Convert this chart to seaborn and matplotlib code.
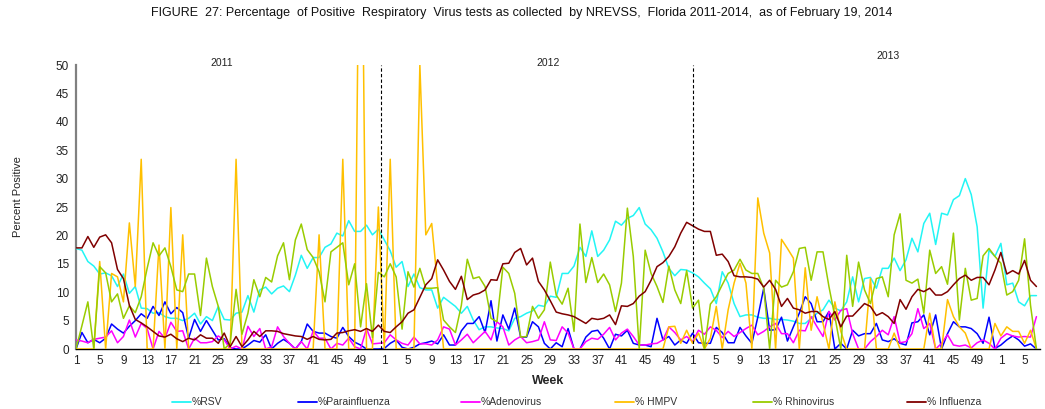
import numpy as np
import pandas as pd
import matplotlib
matplotlib.use("Agg")
import matplotlib.pyplot as plt
import seaborn as sns
from matplotlib.lines import Line2D
from matplotlib.ticker import FixedLocator, FixedFormatter

# ---------------- data ----------------
weeks_2011 = list(range(1, 53))
weeks_2012 = list(range(1, 53))
weeks_2013 = list(range(1, 53))
weeks_2014 = list(range(1, 8))
week_labels = weeks_2011 + weeks_2012 + weeks_2013 + weeks_2014

series_names = ["%RSV", "%Parainfluenza", "%Adenovirus", "% HMPV", "% Rhinovirus", "% Influenza"]
series_colors = ["#22F5F5", "#0000FF", "#FF00FF", "#FFC000", "#99CC00", "#800000"]
year_labels = ["2011", "2012", "2013"]

rsv_2011 = [17.7, 17.4, 15.4, 14.6, 13.2, 13.4, 12.9, 11.0, 13.2, 9.8, 11.0, 7.2, 7.1, 6.3, 6.4, 5.7,
            5.4, 5.4, 5.0, 5.4, 6.3, 4.4, 5.7, 5.0, 7.5, 5.2, 5.1, 6.3, 6.5, 9.4, 6.5, 10.4, 10.9, 9.7,
            10.7, 11.1, 10.1, 13.0, 16.5, 14.2, 16.1, 16.1, 17.9, 18.5, 20.4, 19.9, 22.6, 20.7, 20.7,
            21.8, 20.1, 21.1]
rsv_2012 = [19.2, 17.3, 14.4, 15.4, 11.0, 13.2, 10.8, 10.4, 10.4, 7.2, 9.1, 8.3, 7.5, 6.3, 7.5, 5.1,
            3.4, 3.9, 3.9, 3.7, 3.6, 3.2, 5.4, 5.7, 6.3, 6.7, 7.7, 7.5, 9.3, 9.1, 13.3, 13.3, 14.6, 17.9,
            16.3, 20.8, 16.3, 17.4, 19.2, 22.5, 21.8, 23.0, 23.5, 24.9, 22.0, 21.0, 19.5, 17.1, 14.2,
            12.9, 14.0, 13.9]
rsv_2013 = [13.4, 12.7, 11.6, 10.6, 8.0, 13.6, 11.6, 8.0, 5.7, 6.0, 6.0, 5.6, 5.4, 5.4, 5.2, 5.2,
            5.1, 4.9, 4.5, 4.5, 5.4, 6.3, 6.9, 8.6, 7.2, 6.7, 8.3, 12.7, 8.3, 12.4, 12.6, 10.7, 14.2,
            14.2, 16.0, 13.8, 15.7, 19.5, 17.1, 22.1, 23.9, 18.4, 23.9, 23.6, 26.3, 27.0, 30.0, 27.2,
            21.5, 7.2, 17.4, 16.3, 18.6, 11.3, 11.6, 8.3, 7.6, 9.4, 9.4]

para_2011 = [0, 2.9, 1.1, 1.7, 1.1, 1.9, 4.4, 3.5, 2.8, 4.0, 5.0, 6.2, 5.4, 7.5, 5.9, 8.3, 6.2, 7.3,
             6.4, 1.9, 5.2, 3.1, 5.0, 3.3, 1.6, 1.8, 0.2, 0, 0, 0.7, 1.5, 1.2, 2.5, 0, 1.0, 1.7, 1.0, 0,
             1.3, 4.4, 3.1, 2.8, 2.8, 2.2, 1.9, 3.8, 2.2, 1.2, 0.7, 0, 0, 0]
para_2012 = [0.1, 1.0, 1.6, 0.3, 0, 0.3, 0.9, 1.1, 1.4, 0.9, 2.5, 0.7, 0.7, 3.2, 4.5, 4.5, 5.7, 2.9,
             8.5, 1.4, 6.0, 3.5, 7.2, 2.1, 2.1, 4.8, 3.9, 1.0, 0, 1.1, 0.4, 3.6, 0, 0, 2.1, 3.1, 3.3,
             1.9, 0, 2.6, 2.3, 3.3, 1.0, 0.7, 0.7, 0.4, 5.4, 1.6, 2.2, 0.7, 1.6, 1.0]
para_2013 = [2.8, 1.1, 1.0, 1.0, 3.8, 2.9, 1.1, 1.1, 3.8, 2.3, 1.0, 5.6, 10.7, 3.3, 3.4, 5.6, 1.4,
             3.9, 6.3, 9.2, 8.0, 4.8, 4.8, 6.6, 0, 1.0, 0, 3.3, 2.3, 2.7, 2.7, 4.5, 1.6, 1.3, 1.8, 1.0,
             0.7, 4.6, 4.8, 6.0, 2.5, 6.0, 0, 2.7, 4.8, 3.9, 3.9, 3.6, 2.7, 1.0, 5.6, 0.1, 0.7, 1.6,
             2.3, 1.6, 0.5, 0.9, 0]

adeno_2011 = [1.6, 1.4, 1.1, 1.7, 1.9, 2.1, 3.2, 1.1, 2.2, 5.1, 2.1, 4.5, 3.6, 0, 3.1, 1.9, 4.7, 3.1,
              3.2, 0, 1.9, 1.1, 1.1, 1.3, 2.3, 1.6, 0, 0.5, 0, 4.0, 2.2, 3.6, 0, 0.4, 3.9, 2.2, 1.0, 0,
              1.3, 0, 3.2, 1.9, 1.9, 0, 1.0, 0.7, 1.9, 0.4, 0, 3.6, 0.9, 1.0]
adeno_2012 = [1.1, 2.5, 1.6, 1.0, 0.7, 2.1, 0.9, 0.9, 0.7, 1.6, 3.9, 3.5, 0.7, 1.6, 2.6, 1.1, 2.1,
              3.1, 1.6, 4.8, 3.9, 0.7, 1.6, 2.2, 1.1, 1.3, 1.6, 4.8, 1.6, 1.5, 3.9, 2.8, 0, 0, 1.3,
              1.9, 1.7, 2.6, 3.8, 1.6, 2.8, 3.5, 2.2, 0.7, 0.7, 0.9, 1.0, 1.6, 3.9, 2.9, 1.6, 2.2]
adeno_2013 = [1.3, 3.3, 2.6, 3.9, 3.3, 2.0, 3.1, 2.2, 2.9, 3.6, 4.2, 2.5, 3.1, 3.9, 4.5, 2.7, 2.7,
              1.1, 3.3, 3.2, 5.7, 3.9, 2.2, 6.6, 5.1, 6.8, 7.1, 2.7, 0, 0, 1.3, 2.2, 3.3, 2.5, 5.7, 1.1,
              1.3, 2.7, 7.1, 3.6, 4.5, 0, 1.0, 2.5, 0.7, 0.5, 0.7, 0.2, 1.1, 1.6, 1.0, 0, 1.9, 2.7,
              2.3, 2.1, 2.2, 2.1, 5.7]

hmpv_2011 = [0, 0, 0, 0, 15.4, 0, 13.3, 12.7, 8.3, 22.2, 11.0, 33.4, 0, 0, 18.3, 0, 24.9, 0, 20.1,
             0, 0, 0, 0, 0, 0, 0, 0, 33.4, 0, 0, 0, 0, 0, 0, 0, 0, 0, 0, 0, 0, 0, 20.1, 0, 0, 0, 33.4,
             0, 0, 100.0, 0, 0, 25.0]
hmpv_2012 = [0, 33.4, 0, 0, 0, 0, 50.0, 20.1, 22.1, 11.0, 0, 0, 0, 0, 0, 0, 0, 0, 0, 0, 0, 0, 0, 0,
             0, 0, 0, 0, 0, 0, 0, 0, 0, 0, 0, 0, 0, 0, 0, 0, 0, 0, 0, 0, 0, 0, 0, 0, 3.9, 4.0, 1.0, 3.3]
hmpv_2013 = [1.0, 2.8, 0, 1.9, 7.5, 0, 6.9, 11.6, 15.1, 11.6, 0, 26.6, 20.4, 16.9, 0, 19.3, 17.7,
             16.0, 0, 14.3, 3.3, 9.2, 4.5, 0, 8.3, 3.1, 0, 0, 0, 0, 12.4, 0, 0, 0, 2.8, 0, 0, 0, 0, 0,
             6.3, 0, 0, 8.7, 5.7, 3.9, 2.8, 0, 0, 0, 0, 4.5, 2.3, 3.9, 3.1, 3.1, 1.0, 3.3, 0]

rhino_2011 = [0, 4.1, 8.3, 0, 14.5, 13.4, 8.3, 9.7, 5.4, 7.6, 6.4, 9.2, 14.2, 18.7, 16.4, 17.8, 14.5,
              10.4, 10.1, 13.2, 13.2, 5.9, 16.0, 11.0, 7.5, 0, 1.0, 10.5, 2.6, 6.3, 12.2, 9.2, 12.6,
              11.8, 16.4, 18.7, 12.2, 19.2, 22.0, 17.5, 16.1, 13.6, 8.3, 17.1, 17.9, 18.7, 11.3, 15.0,
              3.9, 11.5, 2.0, 13.5]
rhino_2012 = [12.7, 15.0, 12.7, 3.5, 13.6, 10.9, 14.2, 10.7, 10.7, 10.8, 5.1, 3.9, 2.9, 7.7, 15.8,
              12.4, 12.7, 11.0, 5.4, 4.8, 14.4, 13.3, 9.8, 2.1, 2.2, 7.5, 5.4, 6.9, 15.3, 9.5, 7.9,
              10.7, 3.1, 22.0, 11.7, 16.1, 11.7, 13.2, 11.3, 6.6, 11.6, 24.8, 16.3, 0, 17.4, 13.3,
              11.0, 8.2, 14.6, 10.4, 8.0, 13.8]
rhino_2013 = [7.2, 8.6, 0, 7.9, 9.2, 11.3, 13.3, 13.9, 15.8, 13.9, 13.3, 13.3, 10.7, 0, 12.1, 10.9,
              11.3, 13.6, 17.7, 17.9, 12.1, 17.1, 17.1, 11.0, 5.7, 0, 16.5, 7.5, 15.3, 10.4, 8.0, 12.4,
              12.7, 9.2, 20.1, 23.8, 12.1, 11.6, 12.3, 6.3, 17.4, 13.3, 14.5, 11.4, 20.4, 5.1, 14.2,
              8.6, 8.9, 16.4, 17.7, 16.3, 15.1, 9.5, 10.1, 12.1, 19.4, 7.7, 0]

flu_2011 = [17.8, 17.8, 19.8, 17.9, 19.7, 20.1, 18.7, 14.0, 12.4, 7.7, 5.2, 4.6, 3.9, 3.1, 2.3, 2.1,
            2.6, 1.8, 1.3, 1.9, 1.6, 2.5, 1.9, 1.9, 1.0, 2.8, 0.4, 2.2, 0.4, 1.6, 3.1, 2.2, 3.2, 3.2,
            3.1, 2.7, 2.5, 2.3, 2.2, 1.7, 2.2, 1.7, 1.6, 1.7, 2.8, 2.9, 3.2, 3.4, 3.1, 3.6, 3.1, 4.2]
flu_2012 = [3.1, 2.9, 3.9, 4.8, 6.3, 6.9, 9.1, 11.3, 12.4, 15.7, 13.9, 11.9, 10.5, 12.8, 8.7, 9.5,
            9.8, 10.4, 12.2, 12.1, 15.0, 15.1, 17.0, 17.7, 14.8, 16.0, 11.9, 10.4, 8.5, 6.5, 6.2, 6.0,
            5.7, 5.1, 4.5, 5.4, 5.2, 5.4, 6.0, 4.3, 7.6, 7.5, 8.0, 9.3, 10.1, 12.1, 14.5, 15.2, 16.3,
            18.0, 20.4, 22.3]
flu_2013 = [21.7, 21.1, 20.7, 20.7, 16.5, 16.7, 15.4, 12.9, 12.7, 12.7, 12.6, 12.3, 10.9, 12.1, 10.5,
            7.5, 8.9, 7.2, 6.9, 6.3, 6.6, 6.6, 5.7, 5.2, 6.6, 3.9, 5.8, 5.8, 6.9, 8.0, 7.5, 5.9, 6.4,
            5.7, 4.5, 8.7, 7.0, 9.2, 10.5, 10.1, 10.7, 9.5, 9.5, 10.1, 11.3, 12.4, 13.0, 12.1, 12.6,
            12.6, 11.3, 13.9, 17.0, 13.2, 13.8, 13.2, 15.6, 12.1, 11.0]

series_values = {
    "%RSV": rsv_2011 + rsv_2012 + rsv_2013,
    "%Parainfluenza": para_2011 + para_2012 + para_2013,
    "%Adenovirus": adeno_2011 + adeno_2012 + adeno_2013,
    "% HMPV": hmpv_2011 + hmpv_2012 + hmpv_2013,
    "% Rhinovirus": rhino_2011 + rhino_2012 + rhino_2013,
    "% Influenza": flu_2011 + flu_2012 + flu_2013,
}

n = len(week_labels)
rows = []
for name in series_names:
    vals = series_values[name]
    for i, v in enumerate(vals):
        rows.append({"pos": i, "value": v, "series": name})
df = pd.DataFrame(rows)

# ---------------- figure ----------------
sns.set_style("white")
plt.rcParams["font.family"] = ["Liberation Sans", "DejaVu Sans"]

W, H = 1045, 409
fig = plt.figure(figsize=(W / 100, H / 100), dpi=100)
ax_left, ax_right, ax_top, ax_bottom = 76, 1040, 65, 349
ax = fig.add_axes([ax_left / W, 1 - ax_bottom / H, (ax_right - ax_left) / W, (ax_bottom - ax_top) / H])

palette = dict(zip(series_names, series_colors))
sns.lineplot(data=df, x="pos", y="value", hue="series", hue_order=series_names,
             palette=palette, estimator=None, sort=False, legend=False,
             linewidth=1.1, ax=ax, zorder=3)

ax.set_xlim(0, 162.6)
ax.set_ylim(0, 50)

# year boundaries (between week 52 and week 1)
boundaries = [len(weeks_2011) - 0.5, len(weeks_2011) + len(weeks_2012)]
for b in boundaries:
    ax.axvline(b, color="black", linestyle=(0, (3, 2)), linewidth=0.8, zorder=4)

# year labels
year_pos = [(24.5, 50.4), (79.6, 50.4), (136.9, 51.5)]
for lab, (xp, yp) in zip(year_labels, year_pos):
    ax.text(xp, yp, lab, ha="center", va="center", fontsize=7.5, color="#222222", clip_on=False)

# ticks
ax.set_yticks(range(0, 51, 5))
ax.tick_params(axis="y", length=0, pad=5, labelsize=8.5, colors="#222222")
ax.xaxis.set_major_locator(FixedLocator(list(range(n))))
ax.xaxis.set_major_formatter(FixedFormatter([str(w) if i % 4 == 0 else "" for i, w in enumerate(week_labels)]))
ax.tick_params(axis="x", direction="inout", length=5, width=0.9, labelsize=8.5, pad=2, colors="black")
for lbl in ax.get_xticklabels():
    lbl.set_color("#222222")

ax.set_xlabel("")
ax.set_ylabel("")
for s in ["top", "right"]:
    ax.spines[s].set_visible(False)
ax.spines["left"].set_color("#808080")
ax.spines["left"].set_linewidth(1.6)
ax.spines["bottom"].set_color("black")
ax.spines["bottom"].set_linewidth(1.0)
ax.grid(False)

# titles
fig.text(0.499, 1 - 13 / H,
         "FIGURE  27: Percentage  of Positive  Respiratory  Virus tests as collected  by NREVSS,  Florida 2011-2014,  as of February 19, 2014",
         ha="center", va="center", fontsize=9.0, color="#111111")
fig.text(18 / W, 1 - 197 / H, "Percent Positive", rotation=90, ha="center", va="center",
         fontsize=8, color="#222222")
fig.text(548 / W, 1 - 381 / H, "Week", ha="center", va="center", fontsize=9, fontweight="bold")

# legend
legend_x = [172, 298, 461, 615, 753, 907]
ly = 1 - 402 / H
for name, col, x0 in zip(series_names, series_colors, legend_x):
    fig.add_artist(Line2D([x0 / W, (x0 + 19) / W], [ly, ly], color=col, linewidth=1.3,
                          transform=fig.transFigure))
    fig.text((x0 + 20) / W, ly, name, ha="left", va="center", fontsize=7.5, color="#333333")

fig.savefig("out.png", dpi=100)
